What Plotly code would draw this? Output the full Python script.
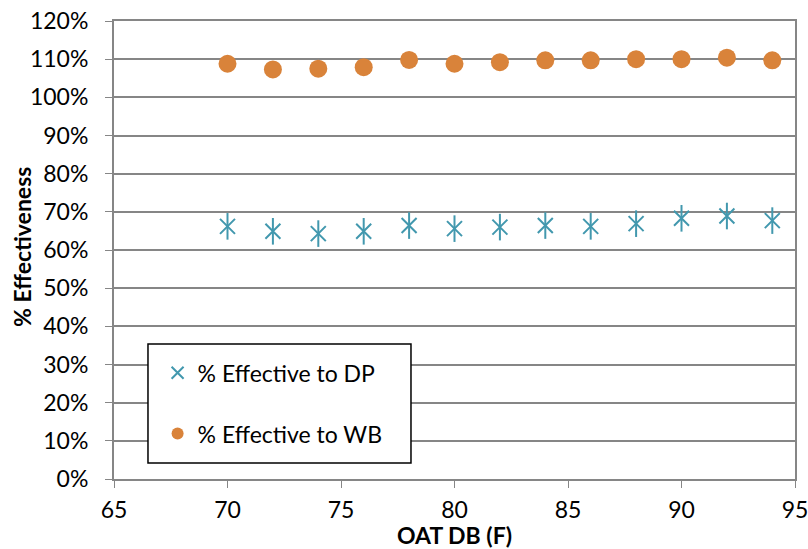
import plotly.graph_objects as go

oat = [70, 72, 74, 76, 78, 80, 82, 84, 86, 88, 90, 92, 94]
eff_dp = [0.662, 0.649, 0.643, 0.649, 0.664, 0.656, 0.660, 0.664, 0.662, 0.669, 0.683, 0.689, 0.677]
eff_wb = [1.088, 1.073, 1.075, 1.079, 1.098, 1.088, 1.092, 1.097, 1.097, 1.100, 1.100, 1.104, 1.097]

name_dp = "% Effective to DP"
name_wb = "% Effective to WB"
x_title = "OAT DB (F)"
y_title = "% Effectiveness"
x_ticks = [65, 70, 75, 80, 85, 90, 95]
y_ticks = [i / 10 for i in range(13)]

FONT = "Lato, Open Sans, sans-serif"
GRID = "#868686"
BLUE = "#4298AE"
ORANGE = "#D9833A"

fig = go.Figure()
fig.add_trace(go.Scatter(
    x=oat, y=eff_dp, mode="markers", name=name_dp, legendgroup="a",
    marker=dict(symbol="x-thin-open", size=15, color=BLUE,
                line=dict(color=BLUE, width=2)),
))
fig.add_trace(go.Scatter(
    x=oat, y=eff_dp, mode="markers", name=name_dp, legendgroup="a",
    showlegend=False, hoverinfo="skip",
    marker=dict(symbol="line-ns-open", size=19, color=BLUE,
                line=dict(color=BLUE, width=2)),
))
fig.add_trace(go.Scatter(
    x=oat, y=eff_wb, mode="markers", name=name_wb, legendgroup="b",
    marker=dict(symbol="circle", size=18, color=ORANGE,
                line=dict(width=0)),
))

# legend frame
fig.add_shape(
    type="rect", xref="paper", yref="paper",
    x0=0.0499, x1=0.4361, y0=0.0349, y1=0.2948,
    line=dict(color="#000000", width=1.5), fillcolor="white", layer="above",
)

# axis titles
fig.add_annotation(
    text="<b>" + x_title + "</b>", xref="paper", yref="paper",
    x=0.5, y=-0.1223, xanchor="center", yanchor="middle", showarrow=False,
    font=dict(size=23),
)
fig.add_annotation(
    text="<b>" + y_title + "</b>", xref="paper", yref="paper",
    x=-0.1351, y=0.5066, xanchor="center", yanchor="middle", showarrow=False,
    textangle=-90, font=dict(size=23),
)

fig.update_layout(
    width=808, height=549,
    margin=dict(l=114, r=13, t=21, b=70, autoexpand=False),
    paper_bgcolor="white", plot_bgcolor="white",
    font=dict(family=FONT, size=23, color="#000000"),
    legend=dict(
        x=0.064, y=0.279, xanchor="left", yanchor="top",
        borderwidth=0, bgcolor="rgba(0,0,0,0)",
        font=dict(size=23), tracegroupgap=28, traceorder="grouped",
        itemsizing="constant",
    ),
    xaxis=dict(
        range=[65, 95], tickvals=x_ticks, ticks="outside", ticklen=7,
        tickcolor=GRID, linecolor=GRID, linewidth=2, mirror=True,
        showgrid=False, zeroline=False, automargin=False,
        ticklabelstandoff=2, ticklabeloverflow="allow",
    ),
    yaxis=dict(
        range=[0, 1.2], tickvals=y_ticks, tickformat=".0%", ticks="outside",
        ticklen=7, tickcolor=GRID, linecolor=GRID, linewidth=2, mirror=True,
        showgrid=True, gridcolor=GRID, gridwidth=2, zeroline=False,
        automargin=False, ticklabelstandoff=12,
    ),
)

fig.write_html(
    "out.html",
    config={"displayModeBar": False},
    post_script="document.body.style.margin='0px';document.body.style.overflow='hidden';",
)
